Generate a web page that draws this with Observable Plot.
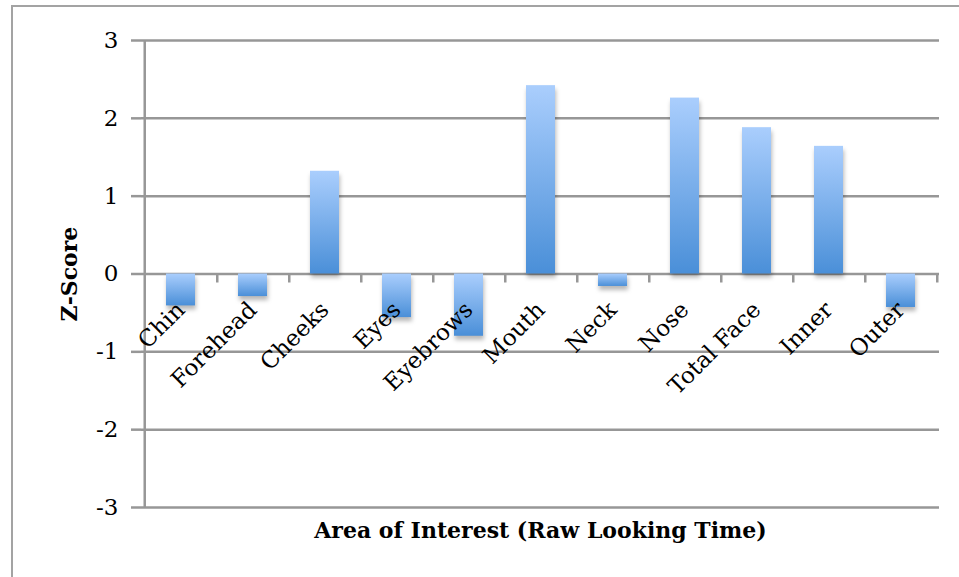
<!DOCTYPE html>
<html>
<head>
<meta charset="utf-8">
<script src="https://cdn.jsdelivr.net/npm/d3@7"></script>
<script src="https://cdn.jsdelivr.net/npm/@observablehq/plot@0.6"></script>
<style>
  body { margin: 0; background: #fff; }
  #wrap { position: relative; width: 959px; height: 577px; overflow: hidden; }
  #wrap svg { position: absolute; left: 0; top: 0; background: transparent; }
  #border { position: absolute; left: 11px; top: 5px; right: -5px; bottom: -5px;
            border-top: 2px solid #a3a3a3; border-left: 2px solid #a3a3a3; pointer-events: none; }
</style>
</head>
<body>
<div id="wrap"></div>
<script>
// Data
const categories = ["Chin", "Forehead", "Cheeks", "Eyes", "Eyebrows", "Mouth", "Neck", "Nose", "Total Face", "Inner", "Outer"];
const zScores = [-0.41, -0.29, 1.32, -0.56, -0.80, 2.42, -0.16, 2.26, 1.88, 1.64, -0.43];
const yTicks = [-3, -2, -1, 0, 1, 2, 3];
const xTitle = "Area of Interest (Raw Looking Time)";
const yTitle = "Z-Score";

const data = categories.map((c, i) => ({aoi: c, z: zScores[i]}));

const W = 959, H = 577;
const mL = 141, mR = 20, mT = 40, mB = 70;
const step = (W - mL - mR) / categories.length;
const gridColor = "#979797";
const serif = "'DejaVu Serif', 'Liberation Serif', serif";

const gradientDefs = () => {
  const defs = d3.create("svg:defs");
  const g = defs.append("linearGradient")
    .attr("id", "barGrad").attr("x1", 0).attr("y1", 0).attr("x2", 0).attr("y2", 1);
  g.append("stop").attr("offset", "0%").attr("stop-color", "#aacefd");
  g.append("stop").attr("offset", "100%").attr("stop-color", "#4a8fd8");
  return defs.node();
};

const chart = Plot.plot({
  width: W,
  height: H,
  marginLeft: mL,
  marginRight: mR,
  marginTop: mT,
  marginBottom: mB,
  style: {fontFamily: serif, background: "transparent", color: "black"},
  x: {type: "band", domain: categories, paddingInner: 0.6, paddingOuter: 0.3, axis: null},
  y: {domain: [-3, 3], axis: null},
  marks: [
    gradientDefs,
    Plot.gridY(yTicks, {stroke: gridColor, strokeOpacity: 1, strokeWidth: 2.5}),
    Plot.axisY(yTicks, {
      tickSize: 10, tickPadding: 13, stroke: gridColor, strokeWidth: 2.5,
      fontSize: 23, fill: "black", label: null, tickFormat: d => String(d)
    }),
    Plot.ruleX([categories[0]], {y1: yTicks[0], y2: yTicks[yTicks.length - 1], dx: -step / 2, stroke: gridColor, strokeWidth: 2.5}),
    Plot.ruleX(categories, {y1: () => 0, y2: () => 0, insetBottom: -9, dx: step / 2, stroke: gridColor, strokeWidth: 2.5}),
    Plot.barY(data, {
      x: "aoi", y: "z", fill: "url(#barGrad)",
      imageFilter: "drop-shadow(1px 4px 2px rgba(0,0,0,0.28))"
    }),
    Plot.text(data, {
      x: "aoi", y: () => 0, text: "aoi", rotate: -45, textAnchor: "end",
      dx: 0, dy: 32, fontSize: 23, fill: "black"
    }),
    Plot.text([yTitle], {
      frameAnchor: "left", textAnchor: "middle", dx: -72, rotate: -90, fontSize: 22, fontWeight: "bold", fill: "black"
    }),
    Plot.text([xTitle], {
      frameAnchor: "bottom", lineAnchor: "middle", dy: 23, fontSize: 22, fontWeight: "bold", fill: "black"
    })
  ]
});

const wrap = document.getElementById("wrap");
wrap.appendChild(chart);
const border = document.createElement("div");
border.id = "border";
wrap.appendChild(border);
</script>
</body>
</html>
